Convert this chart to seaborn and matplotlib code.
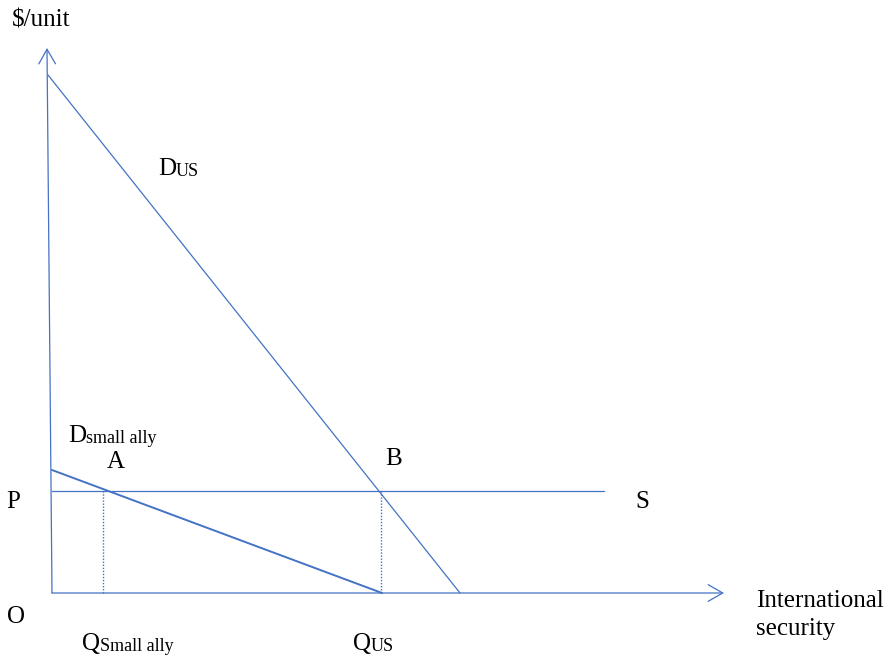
import numpy as np
import pandas as pd
import matplotlib
matplotlib.use('Agg')
import matplotlib.pyplot as plt
import seaborn as sns

# ---- diagram data (quantity on x, $/unit on y) ----
y_axis_x = [0, -5]
y_axis_y = [0, 545]
x_axis_end = 672

d_us_x = [-4, 408]          # demand of the US
d_us_y = [518, 0]
d_ally_x = [0, 330]         # demand of the small ally
d_ally_y = [123, 0]
price_p = 102               # supply price S
supply_x = [0, 552]
q_ally = 51                 # point A quantity
q_us = 329                  # point B quantity

sns.set_theme(style='white')
plt.rcParams['font.family'] = ['Liberation Serif', 'DejaVu Serif']
blue = '#4472C4'

fig = plt.figure(figsize=(8.9, 6.56), dpi=100)
ax = fig.add_axes([0, 0, 1, 1])
ax.set_xlim(-52, 838)
ax.set_ylim(-63, 593)
ax.axis('off')

lines = pd.DataFrame({
    'x': d_us_x + d_ally_x + supply_x,
    'y': d_us_y + d_ally_y + [price_p, price_p],
    'curve': ['D_US'] * 2 + ['D_ally'] * 2 + ['S'] * 2,
})
sns.lineplot(data=lines[lines.curve == 'D_US'], x='x', y='y', ax=ax, color=blue,
             lw=0.9, estimator=None, sort=False)
sns.lineplot(data=lines[lines.curve == 'D_ally'], x='x', y='y', ax=ax, color=blue,
             lw=1.4, estimator=None, sort=False)
sns.lineplot(data=lines[lines.curve == 'S'], x='x', y='y', ax=ax, color=blue,
             lw=0.9, estimator=None, sort=False)

# dotted drop lines
for q in (q_ally, q_us):
    sns.lineplot(x=[q, q], y=[0, price_p], ax=ax, color=blue, lw=1.0,
                 linestyle=(0, (1, 1.2)), estimator=None, sort=False)

# axes with open arrow heads
arrow = dict(arrowstyle='->,head_length=0.7,head_width=0.4', color=blue,
             lw=0.9, mutation_scale=15, shrinkA=0, shrinkB=0)
ax.annotate('', xy=(x_axis_end, 0), xytext=(0, 0), arrowprops=arrow)
ax.annotate('', xy=(y_axis_x[1], y_axis_y[1]), xytext=(y_axis_x[0], y_axis_y[0]),
            arrowprops=arrow)

fs = 18
sub = 13

def label(x, y, main, small=None):
    t = ax.text(x, y, main, fontsize=fs, ha='left', va='baseline', color='black')
    if small:
        ax.annotate(small, xy=(1, 0), xycoords=t, fontsize=sub, ha='left',
                    va='bottom', color='black')

label(-40, 566, '$/unit')
label(106, 418, 'D', 'US')
label(16, 151, 'D', 'small ally')
label(55, 125, 'A')
label(333, 128, 'B')
label(-46, 85, 'P')
label(583, 85, 'S')
label(-45, -30, 'O')
label(30, -57, 'Q', 'Small ally')
label(301, -57, 'Q', 'US')
label(704, -14, 'International')
label(704, -42, 'security')

fig.savefig('out.png', dpi=100)
